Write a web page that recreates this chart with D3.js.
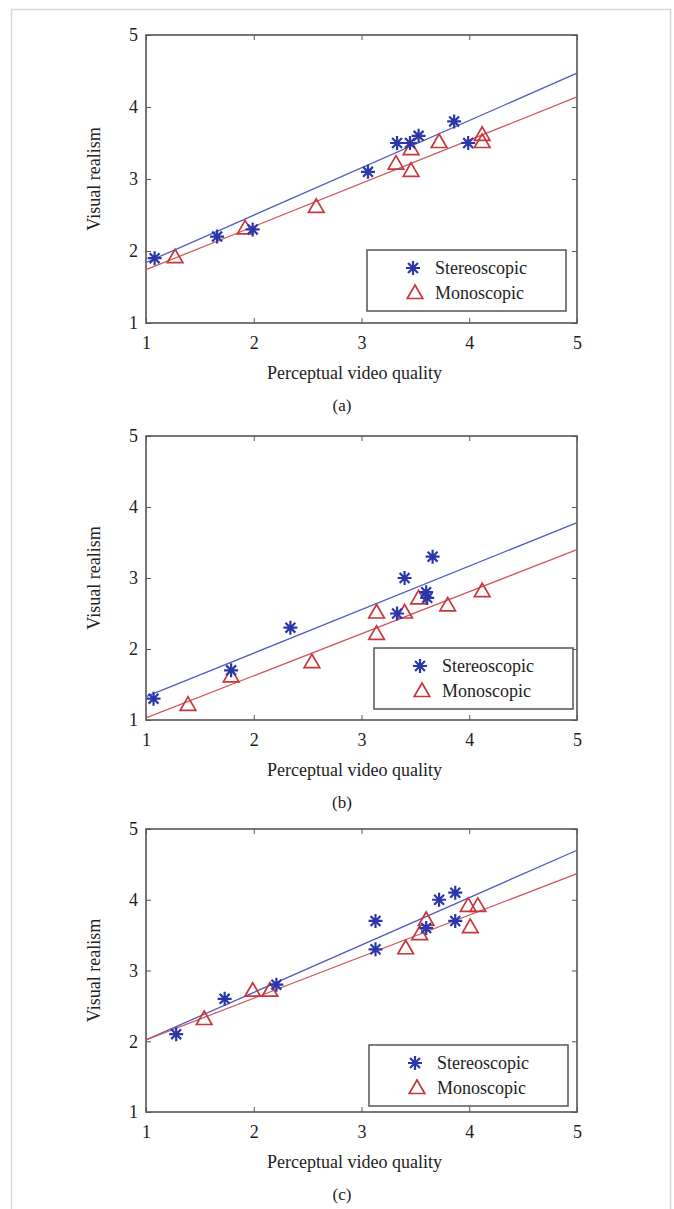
<!DOCTYPE html>
<html>
<head>
<meta charset="utf-8">
<script src="https://cdn.jsdelivr.net/npm/d3@7"></script>
<style>
  body { margin: 0; background: #fff; }
  svg { display: block; }
  svg text { font-family: "Liberation Serif", "Times New Roman", "DejaVu Serif", "Noto Serif", serif !important; fill: #222; }
</style>
</head>
<body>
<div id="chart"></div>
<script>
// data
const panelNames = ["(a)", "(b)", "(c)"];
const seriesNames = ["Stereoscopic", "Monoscopic"];
const xTicks = [1, 2, 3, 4, 5];
const yTicks = [1, 2, 3, 4, 5];

const stereoX_a = [1.08, 1.66, 1.99, 3.06, 3.33, 3.45, 3.53, 3.86, 3.99];
const stereoY_a = [1.9, 2.2, 2.3, 3.1, 3.5, 3.5, 3.6, 3.8, 3.5];
const monoX_a = [1.27, 1.92, 2.58, 3.32, 3.46, 3.46, 3.72, 4.12, 4.12];
const monoY_a = [1.9, 2.3, 2.6, 3.2, 3.4, 3.1, 3.5, 3.6, 3.5];

const stereoX_b = [1.07, 1.79, 2.34, 3.33, 3.40, 3.60, 3.61, 3.66];
const stereoY_b = [1.3, 1.7, 2.3, 2.5, 3.0, 2.8, 2.72, 3.3];
const monoX_b = [1.39, 1.79, 2.54, 3.14, 3.14, 3.40, 3.53, 3.80, 4.12];
const monoY_b = [1.2, 1.6, 1.8, 2.5, 2.2, 2.5, 2.7, 2.6, 2.8];

const stereoX_c = [1.28, 1.73, 2.21, 3.13, 3.13, 3.60, 3.72, 3.87, 3.87];
const stereoY_c = [2.1, 2.6, 2.8, 3.7, 3.3, 3.6, 4.0, 4.1, 3.7];
const monoX_c = [1.54, 1.99, 2.15, 3.41, 3.54, 3.60, 4.01, 3.99, 4.08];
const monoY_c = [2.3, 2.7, 2.7, 3.3, 3.5, 3.7, 3.6, 3.9, 3.9];

// fitted lines: value at x = 1 and at x = 5
const fitStereo = [[1.84, 4.47], [1.33, 3.78], [2.02, 4.70]];
const fitMono = [[1.74, 4.14], [1.03, 3.40], [2.02, 4.37]];

const width = 674, height = 1209;
const plotLeft = 146, plotRight = 577;
const plotTops = [35, 436, 829];
const plotBottoms = [323, 720, 1112];
const legendBoxes = [[367, 250], [374, 648], [369, 1045]];
const serif = "'Liberation Serif', 'Times New Roman', 'DejaVu Serif', serif";

const blue = "#2b37a8", red = "#c8373c";
const blueLine = "#4f5cc0", redLine = "#d05a5e";

const svg = d3.select("#chart").append("svg")
    .attr("width", width)
    .attr("height", height)
    .attr("font-family", serif);

// outer frame of the figure
svg.append("path")
    .attr("d", "M11.5," + height + "V9.5H670.5V" + height)
    .attr("fill", "none")
    .attr("stroke", "#d8d8d8")
    .attr("stroke-width", 1.5);

const panels = [
    {sx: stereoX_a, sy: stereoY_a, mx: monoX_a, my: monoY_a},
    {sx: stereoX_b, sy: stereoY_b, mx: monoX_b, my: monoY_b},
    {sx: stereoX_c, sy: stereoY_c, mx: monoX_c, my: monoY_c}
];

function starPath(r) {
    const d = r * Math.SQRT1_2;
    return "M" + (-r) + ",0H" + r + "M0," + (-r) + "V" + r +
        "M" + (-d) + "," + (-d) + "L" + d + "," + d +
        "M" + (-d) + "," + d + "L" + d + "," + (-d);
}
const triPath = d3.symbol().type(d3.symbolTriangle).size(105)();

panels.forEach(function(p, i) {
    const x = d3.scaleLinear().domain([1, 5]).range([plotLeft, plotRight]);
    const y = d3.scaleLinear().domain([1, 5]).range([plotBottoms[i], plotTops[i]]);
    const g = svg.append("g");

    // axes with inward ticks on all four sides
    const tickLen = 5;
    g.append("g")
        .attr("transform", "translate(0," + plotBottoms[i] + ")")
        .call(d3.axisBottom(x).tickValues(xTicks).tickSize(-tickLen).tickPadding(13).tickFormat(d3.format("d")));
    g.append("g")
        .attr("transform", "translate(0," + plotTops[i] + ")")
        .call(d3.axisTop(x).tickValues(xTicks).tickSize(-tickLen).tickFormat(""));
    g.append("g")
        .attr("transform", "translate(" + plotLeft + ",0)")
        .call(d3.axisLeft(y).tickValues(yTicks).tickSize(-tickLen).tickPadding(8).tickFormat(d3.format("d")));
    g.append("g")
        .attr("transform", "translate(" + plotRight + ",0)")
        .call(d3.axisRight(y).tickValues(yTicks).tickSize(-tickLen).tickFormat(""));
    g.selectAll(".domain").remove();
    g.selectAll("g").attr("font-family", serif).attr("font-size", 18);
    g.selectAll(".tick line").attr("stroke", "#555").attr("stroke-width", 1);
    g.selectAll(".tick text").attr("fill", "#222");

    g.append("rect")
        .attr("x", plotLeft)
        .attr("y", plotTops[i])
        .attr("width", plotRight - plotLeft)
        .attr("height", plotBottoms[i] - plotTops[i])
        .attr("fill", "none")
        .attr("stroke", "#555")
        .attr("stroke-width", 1.6);

    // fit lines
    const line = d3.line().x(d => x(d[0])).y(d => y(d[1]));
    g.append("path")
        .datum([[1, fitStereo[i][0]], [5, fitStereo[i][1]]])
        .attr("d", line)
        .attr("stroke", blueLine)
        .attr("stroke-width", 1.3)
        .attr("fill", "none");
    g.append("path")
        .datum([[1, fitMono[i][0]], [5, fitMono[i][1]]])
        .attr("d", line)
        .attr("stroke", redLine)
        .attr("stroke-width", 1.3)
        .attr("fill", "none");

    // markers
    g.selectAll(".mono")
        .data(d3.zip(p.mx, p.my))
        .enter()
        .append("path")
        .attr("class", "mono")
        .attr("d", triPath)
        .attr("transform", d => "translate(" + x(d[0]) + "," + y(d[1]) + ")")
        .attr("fill", "none")
        .attr("stroke", red)
        .attr("stroke-width", 1.7);
    g.selectAll(".stereo")
        .data(d3.zip(p.sx, p.sy))
        .enter()
        .append("path")
        .attr("class", "stereo")
        .attr("d", starPath(7))
        .attr("transform", d => "translate(" + x(d[0]) + "," + y(d[1]) + ")")
        .attr("fill", "none")
        .attr("stroke", blue)
        .attr("stroke-width", 2.2);

    // legend
    const lx = legendBoxes[i][0], ly = legendBoxes[i][1];
    const leg = g.append("g").attr("transform", "translate(" + lx + "," + ly + ")");
    leg.append("rect")
        .attr("width", 199)
        .attr("height", 61)
        .attr("fill", "#fff")
        .attr("stroke", "#555")
        .attr("stroke-width", 1.5);
    leg.append("path")
        .attr("d", starPath(7))
        .attr("transform", "translate(46,18)")
        .attr("fill", "none")
        .attr("stroke", blue)
        .attr("stroke-width", 2.2);
    leg.append("path")
        .attr("d", triPath)
        .attr("transform", "translate(48,44)")
        .attr("fill", "none")
        .attr("stroke", red)
        .attr("stroke-width", 1.7);
    seriesNames.forEach(function(name, k) {
        leg.append("text")
            .attr("x", 68)
            .attr("y", 24 + k * 25)
            .attr("font-size", 18)
            .text(name);
    });

    // axis titles and caption
    g.append("text")
        .attr("x", (plotLeft + plotRight) / 2 - 7)
        .attr("y", plotBottoms[i] + 56)
        .attr("text-anchor", "middle")
        .attr("font-size", 18)
        .text("Perceptual video quality");
    g.append("text")
        .attr("transform", "translate(100," + ((plotTops[i] + plotBottoms[i]) / 2) + ") rotate(-90)")
        .attr("text-anchor", "middle")
        .attr("font-size", 18)
        .text("Visual realism");
    g.append("text")
        .attr("x", 342)
        .attr("y", plotBottoms[i] + 88)
        .attr("text-anchor", "middle")
        .attr("font-size", 17)
        .text(panelNames[i]);
});
</script>
</body>
</html>
